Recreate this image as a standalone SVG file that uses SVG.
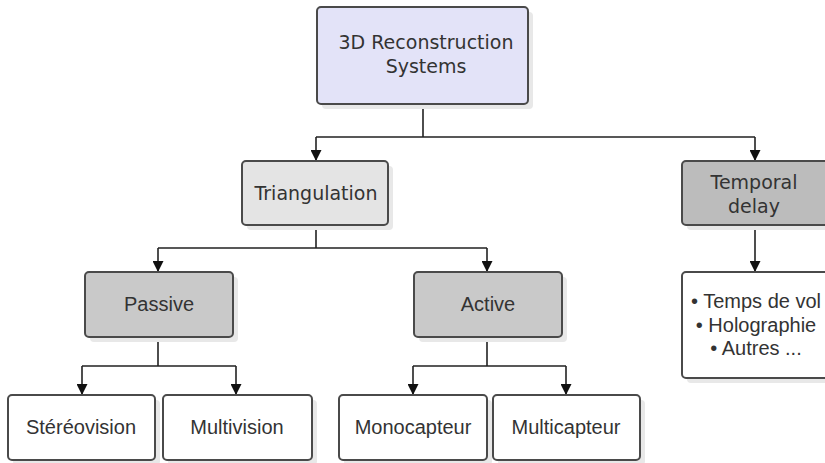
<svg xmlns="http://www.w3.org/2000/svg" width="825" height="463" viewBox="0 0 825 463">
<defs>
<marker id="arr" viewBox="0 0 10 10" refX="10" refY="5" markerWidth="11" markerHeight="11" markerUnits="userSpaceOnUse" orient="auto">
<path d="M0,0 L10,5 L0,10 Z" fill="#111"/>
</marker>
<style>
.box{stroke:#4a4a4a;stroke-width:2}
.sh{fill:#e8e8e8;stroke:none}
.top{fill:#e3e3f8}
.lt{fill:#e4e4e4}
.dk{fill:#c9c9c9}
.dk2{fill:#bcbcbc}
.wh{fill:#ffffff}
.t1{font-family:"DejaVu Sans",Verdana,sans-serif;font-size:19px;fill:#333;text-anchor:middle}
.t2{font-family:"Liberation Sans",Arial,sans-serif;font-size:20px;fill:#333;text-anchor:middle}
.c{fill:none;stroke:#222;stroke-width:1.6}
</style>
</defs>
<rect width="825" height="463" fill="#fff"/>
<g id="connectors">
<path class="c" d="M423,104 V137 M316,137 H755"/>
<path class="c" d="M316,137 V161" marker-end="url(#arr)"/>
<path class="c" d="M755,137 V161" marker-end="url(#arr)"/>
<path class="c" d="M316,225 V248 M158,248 H487"/>
<path class="c" d="M158,248 V272" marker-end="url(#arr)"/>
<path class="c" d="M487,248 V272" marker-end="url(#arr)"/>
<path class="c" d="M755,225 V272" marker-end="url(#arr)"/>
<path class="c" d="M158,337 V366 M82,366 H236"/>
<path class="c" d="M82,366 V395" marker-end="url(#arr)"/>
<path class="c" d="M236,366 V395" marker-end="url(#arr)"/>
<path class="c" d="M487,337 V366 M413,366 H566"/>
<path class="c" d="M413,366 V395" marker-end="url(#arr)"/>
<path class="c" d="M566,366 V395" marker-end="url(#arr)"/>
</g>
<g id="n-root">
<rect class="sh" x="322" y="12" width="211" height="97" rx="4"/>
<rect class="box top" x="317" y="7" width="211" height="97" rx="4"/>
<text class="t1" x="426" y="49">3D Reconstruction</text>
<text class="t1" x="426" y="73">Systems</text>
</g>
<g id="n-triangulation">
<rect class="sh" x="247" y="166" width="146" height="64" rx="4"/>
<rect class="box lt" x="242" y="161" width="146" height="64" rx="4"/>
<text class="t1" x="316" y="200">Triangulation</text>
</g>
<g id="n-temporal">
<rect class="sh" x="687" y="166" width="150" height="64" rx="4"/>
<rect class="box dk2" x="682" y="161" width="150" height="64" rx="4"/>
<text class="t1" x="754" y="189">Temporal</text>
<text class="t1" x="754" y="213">delay</text>
</g>
<g id="n-list">
<rect class="sh" x="687" y="277" width="150" height="106" rx="4"/>
<rect class="box wh" x="682" y="272" width="150" height="106" rx="4"/>
<text class="t2" x="756" y="308">• Temps de vol</text>
<text class="t2" x="756" y="332">• Holographie</text>
<text class="t2" x="756" y="355">• Autres ...</text>
</g>
<g id="n-passive">
<rect class="sh" x="90" y="277" width="148" height="65" rx="4"/>
<rect class="box dk" x="85" y="272" width="148" height="65" rx="4"/>
<text class="t2" x="159" y="311">Passive</text>
</g>
<g id="n-active">
<rect class="sh" x="419" y="277" width="148" height="65" rx="4"/>
<rect class="box dk" x="414" y="272" width="148" height="65" rx="4"/>
<text class="t2" x="488" y="311">Active</text>
</g>
<g id="n-stereo">
<rect class="sh" x="13" y="400" width="147" height="65" rx="4"/>
<rect class="box wh" x="8" y="395" width="147" height="65" rx="4"/>
<text class="t2" x="81" y="434">Stéréovision</text>
</g>
<g id="n-multivision">
<rect class="sh" x="168" y="400" width="149" height="65" rx="4"/>
<rect class="box wh" x="163" y="395" width="149" height="65" rx="4"/>
<text class="t2" x="237" y="434">Multivision</text>
</g>
<g id="n-mono">
<rect class="sh" x="344" y="400" width="148" height="65" rx="4"/>
<rect class="box wh" x="339" y="395" width="148" height="65" rx="4"/>
<text class="t2" x="413" y="434">Monocapteur</text>
</g>
<g id="n-multicapteur">
<rect class="sh" x="498" y="400" width="147" height="65" rx="4"/>
<rect class="box wh" x="493" y="395" width="147" height="65" rx="4"/>
<text class="t2" x="566" y="434">Multicapteur</text>
</g>
</svg>
